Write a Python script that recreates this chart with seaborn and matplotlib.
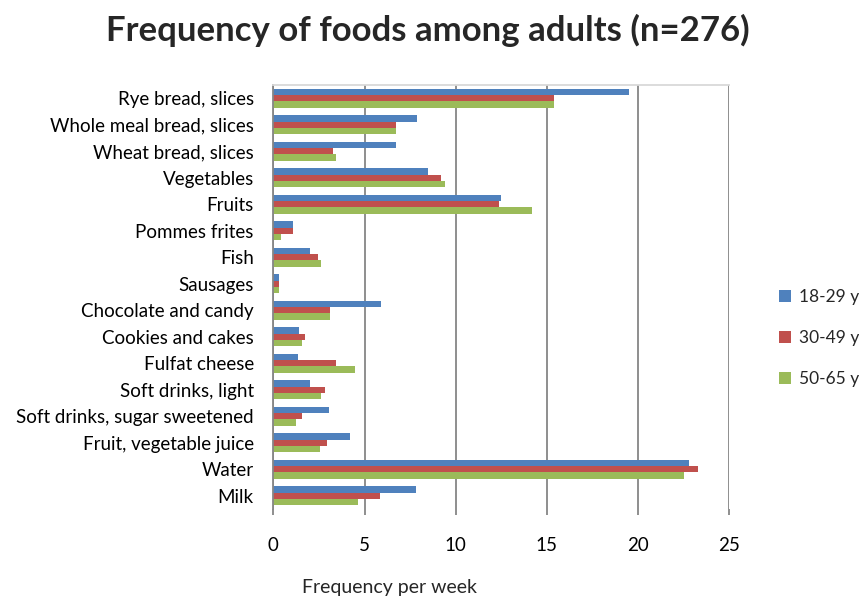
import matplotlib
matplotlib.use("Agg")
import matplotlib.pyplot as plt
import seaborn as sns
import pandas as pd

foods = [
    "Rye bread, slices",
    "Whole meal bread, slices",
    "Wheat bread, slices",
    "Vegetables",
    "Fruits",
    "Pommes frites",
    "Fish",
    "Sausages",
    "Chocolate and candy",
    "Cookies and cakes",
    "Fulfat cheese",
    "Soft drinks, light",
    "Soft drinks, sugar sweetened",
    "Fruit, vegetable juice",
    "Water",
    "Milk",
]
age_groups = ["18-29 y", "30-49 y", "50-65 y"]
freq_18_29 = [19.5, 7.9, 6.7, 8.5, 12.5, 1.1, 2.0, 0.3, 5.9, 1.4, 1.35, 2.0, 3.05, 4.2, 22.8, 7.8]
freq_30_49 = [15.4, 6.7, 3.3, 9.2, 12.4, 1.1, 2.45, 0.3, 3.1, 1.75, 3.45, 2.85, 1.6, 2.95, 23.3, 5.85]
freq_50_65 = [15.4, 6.7, 3.45, 9.4, 14.2, 0.4, 2.6, 0.3, 3.1, 1.6, 4.5, 2.6, 1.25, 2.55, 22.5, 4.65]
colors = ["#4F81BD", "#C0504D", "#9BBB59"]

df = pd.DataFrame({
    "food": foods * 3,
    "group": [g for g in age_groups for _ in foods],
    "freq": freq_18_29 + freq_30_49 + freq_50_65,
})

sns.set_style("white")
plt.rcParams["font.family"] = ["Lato", "DejaVu Sans"]

W, H = 859, 598
fig = plt.figure(figsize=(W / 100, H / 100), dpi=100)
ax = fig.add_axes([273.3 / W, 1 - 509 / H, (729.3 - 273.3) / W, (509 - 85) / H])

sns.barplot(data=df, y="food", x="freq", hue="group", order=foods,
            hue_order=age_groups, palette=colors, orient="h",
            width=0.7, saturation=1, linewidth=0, ax=ax, legend=True)

ax.set_xlim(0, 25)
ax.set_ylim(len(foods) - 0.5, -0.5)
ax.set_xticks([0, 5, 10, 15, 20, 25])
ax.xaxis.grid(True, color="#868686", linewidth=1.3)
ax.yaxis.grid(False)
ax.set_axisbelow(True)

for side in ["right", "bottom"]:
    ax.spines[side].set_visible(False)
ax.spines["left"].set_color("#868686")
ax.spines["left"].set_linewidth(1.3)
ax.spines["top"].set_color("#D9D9D9")
ax.spines["top"].set_linewidth(1.3)

ax.tick_params(axis="x", length=4, width=1.3, color="#868686", pad=16,
               labelsize=13.5, labelcolor="#000000", bottom=True)
ax.tick_params(axis="y", length=0, pad=14, labelsize=13.5, labelcolor="#000000")
ax.set_xlabel("")
ax.set_ylabel("")

handles, labels = ax.get_legend_handles_labels()
ax.legend_.remove()
fig.legend(handles, labels, loc="center left", bbox_to_anchor=(770 / W, 1 - 338 / H),
           frameon=False, fontsize=12.5, handlelength=0.7, handleheight=0.7,
           handletextpad=0.45, labelspacing=1.45, borderpad=0)

fig.text(428 / W, 1 - 30 / H, "Frequency of foods among adults (n=276)",
         ha="center", va="center", fontsize=25, fontweight="bold")
fig.text(389 / W, 1 - 587 / H, "Frequency per week", ha="center", va="center",
         fontsize=14)

fig.savefig("out.png", dpi=100, facecolor="white")
